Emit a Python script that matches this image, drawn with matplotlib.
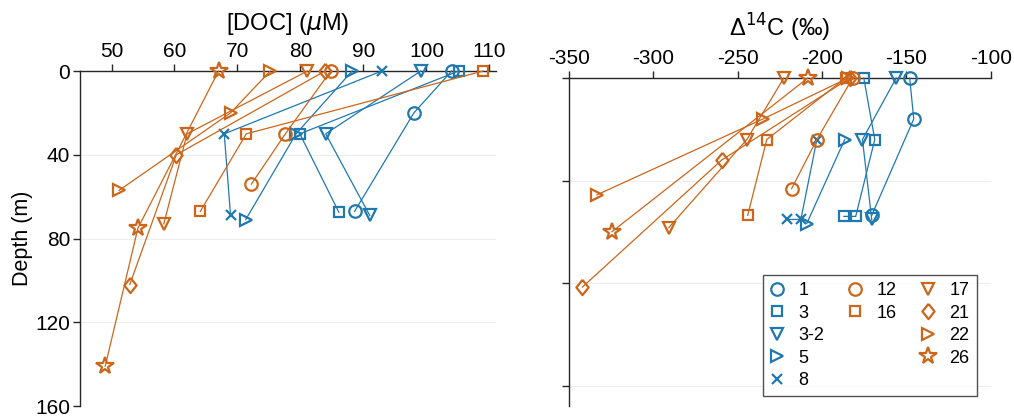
import matplotlib
matplotlib.use('Agg')
import matplotlib.pyplot as plt
from matplotlib.lines import Line2D

plt.rcParams['font.family'] = ['Liberation Sans', 'DejaVu Sans']
plt.rcParams['mathtext.fontset'] = 'dejavusans'
plt.rcParams['axes.unicode_minus'] = False

blue = '#1f78b0'
orange = '#cc661a'

# station names, colours and markers
stations = ['1', '3', '3-2', '5', '8', '12', '16', '17', '21', '22', '26']
colors = [blue] * 5 + [orange] * 6
diamond = [(0, 1), (0.8, 0), (0, -1), (-0.8, 0), (0, 1)]
markers = ['o', 's', 'v', '>', 'x', 'o', 's', 'v', 'diamond', '>', '*']

# DOC profiles (left panel)
doc_1 = [104.0, 98.0, 88.6]
doc_1_depth = [0, 20, 67]
doc_3 = [105.1, 79.9, 86.1]
doc_3_depth = [0, 30, 67.5]
doc_32 = [99.1, 84.0, 91.0]
doc_32_depth = [0, 30, 69]
doc_5 = [88.2, 79.3, 71.3]
doc_5_depth = [0, 30, 71]
doc_8 = [92.9, 67.9, 68.9]
doc_8_depth = [0, 30, 69]
doc_12 = [84.8, 77.6, 72.2]
doc_12_depth = [0, 30, 54]
doc_16 = [109.0, 71.4, 64.1]
doc_16_depth = [0, 30, 67]
doc_17 = [81.1, 62.0, 58.3]
doc_17_depth = [0, 30, 73]
doc_21 = [83.9, 60.3, 52.9]
doc_21_depth = [0, 40, 102]
doc_22 = [75.2, 68.9, 51.2]
doc_22_depth = [0, 20, 57]
doc_26 = [67.0, 54.2, 49.0]
doc_26_depth = [0, 75, 141]

# D14C profiles (right panel)
c14_1 = [-148, -145.6, -170.5]
c14_1_depth = [0, 20, 67]
c14_3 = [-175.2, -168.7, -180, -187]
c14_3_depth = [0, 30, 67.5, 67.5]
c14_32 = [-156, -176, -170.5]
c14_32_depth = [0, 30, 69]
c14_5 = [-186.5, -209]
c14_5_depth = [30, 71]
c14_8 = [-203, -212.5, -221]
c14_8_depth = [30, 69, 69]
c14_12 = [-181.8, -203, -218]
c14_12_depth = [0, 30, 54]
c14_16 = [-186, -232.7, -244]
c14_16_depth = [0, 30, 67]
c14_17 = [-222.6, -244.5, -290.8]
c14_17_depth = [0, 30, 73]
c14_21 = [-183.5, -259.4, -342]
c14_21_depth = [0, 40, 102]
c14_22 = [-184.5, -235, -333.4]
c14_22_depth = [0, 20, 57]
c14_26 = [-208.4, -324.5]
c14_26_depth = [0, 75]

doc_data = [(doc_1, doc_1_depth), (doc_3, doc_3_depth), (doc_32, doc_32_depth),
            (doc_5, doc_5_depth), (doc_8, doc_8_depth), (doc_12, doc_12_depth),
            (doc_16, doc_16_depth), (doc_17, doc_17_depth), (doc_21, doc_21_depth),
            (doc_22, doc_22_depth), (doc_26, doc_26_depth)]
c14_data = [(c14_1, c14_1_depth), (c14_3, c14_3_depth), (c14_32, c14_32_depth),
            (c14_5, c14_5_depth), (c14_8, c14_8_depth), (c14_12, c14_12_depth),
            (c14_16, c14_16_depth), (c14_17, c14_17_depth), (c14_21, c14_21_depth),
            (c14_22, c14_22_depth), (c14_26, c14_26_depth)]

msizes = {'o': 9, 's': 7.5, 'v': 9, '>': 9, 'x': 6.5, 'diamond': 11, '*': 13}


def mk(m):
    return diamond if m == 'diamond' else m


fig = plt.figure(figsize=(10.14, 4.19), dpi=100)
ax1 = fig.add_axes([0.0789, 0.031, 0.410, 0.7995])
ax2 = fig.add_axes([0.561, 0.031, 0.416, 0.7828])

axis_col = '#262626'


def style(ax, xlim, xticks, yticks, show_labels):
    ax.set_xlim(*xlim)
    ax.set_ylim(160, 0)
    ax.set_xticks(xticks)
    ax.set_yticks(yticks)
    ax.xaxis.tick_top()
    ax.xaxis.set_label_position('top')
    for s in ['right', 'bottom']:
        ax.spines[s].set_visible(False)
    for s in ['top', 'left']:
        ax.spines[s].set_color(axis_col)
        ax.spines[s].set_linewidth(1.0)
    ax.tick_params(direction='out', length=5, width=1, color=axis_col,
                   labelsize=15, labelcolor='black', pad=2)
    if not show_labels:
        ax.set_yticklabels([])
    for t in yticks:
        if t > 0:
            ax.axhline(t, color='#eeeeee', lw=0.8, zorder=0)


style(ax1, (45, 111), [50, 60, 70, 80, 90, 100, 110], [0, 40, 80, 120, 160], True)
style(ax2, (-350, -100), [-350, -300, -250, -200, -150, -100], [0, 50, 100, 150], False)

for ax, data in [(ax1, doc_data), (ax2, c14_data)]:
    for (vals, dep), c, m in zip(data, colors, markers):
        ax.plot(vals, dep, color=c, lw=0.9, marker=mk(m), ms=msizes[m], mfc='none',
                mec=c, mew=1.6, clip_on=False, zorder=3)

ax1.set_xlabel('[DOC] ($\\mu$M)', fontsize=17, labelpad=9)
ax1.set_ylabel('Depth (m)', fontsize=15.5, labelpad=2)
ax2.set_xlabel('Δ$^{14}$C (‰)', fontsize=17, labelpad=9)


# legend laid out in three columns: blue, orange circles/squares, orange rest
def handle(i):
    m = markers[i]
    return Line2D([], [], linestyle='none', marker=mk(m), ms=msizes[m], mfc='none',
                  mec=colors[i], mew=1.6, color=colors[i])


blank = Line2D([], [], linestyle='none')
handles = [handle(i) for i in range(5)] + [handle(5), handle(6), blank, blank, blank] \
    + [handle(i) for i in range(7, 11)] + [blank]
labels = stations[:5] + stations[5:7] + ['', '', ''] + stations[7:] + ['']
leg = ax2.legend(handles, labels, ncol=3, loc='lower right', bbox_to_anchor=(0.967, 0.03),
                 fontsize=13, frameon=True, fancybox=False, edgecolor=axis_col,
                 labelspacing=0.3, handlelength=0.8, handletextpad=0.8,
                 columnspacing=1.3, borderpad=0.4, borderaxespad=0)
leg.get_frame().set_linewidth(1.0)

fig.savefig('out.png', dpi=100)
